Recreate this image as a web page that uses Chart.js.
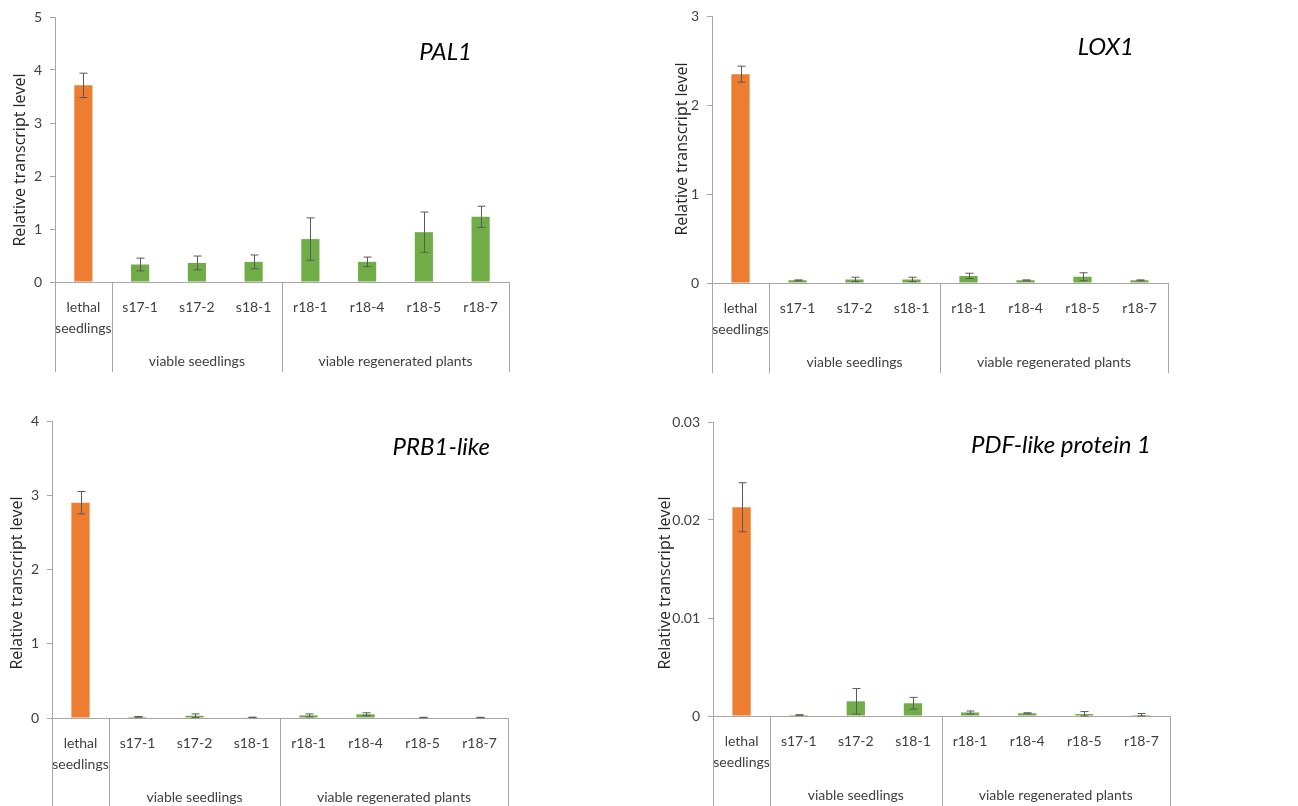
<!DOCTYPE html>
<html>
<head>
<meta charset="utf-8">
<script src="https://cdn.jsdelivr.net/npm/chart.js@4"></script>
<style>
  body { margin: 0; background: #fff; }
  .panel { position: absolute; }
</style>
</head>
<body>
<div class="panel" style="left:0;top:0"><canvas id="pal1" width="649" height="400"></canvas></div>
<div class="panel" style="left:650px;top:0"><canvas id="lox1" width="648" height="400"></canvas></div>
<div class="panel" style="left:0;top:400px"><canvas id="prb1" width="649" height="406"></canvas></div>
<div class="panel" style="left:650px;top:400px"><canvas id="pdf1" width="648" height="406"></canvas></div>
<script>
// categories on the x axis (shared by all four panels)
const sampleLabels = [["lethal", "seedlings"], "s17-1", "s17-2", "s18-1", "r18-1", "r18-4", "r18-5", "r18-7"];
const groupNames = ["", "viable seedlings", "viable regenerated plants"];
const groupSpans = [1, 3, 4];

// PAL1
const pal1Values = [3.71, 0.33, 0.36, 0.38, 0.81, 0.38, 0.94, 1.23];
const pal1Errors = [0.23, 0.12, 0.13, 0.13, 0.40, 0.09, 0.38, 0.20];
// LOX1
const lox1Values = [2.35, 0.03, 0.04, 0.04, 0.08, 0.03, 0.07, 0.03];
const lox1Errors = [0.09, 0.005, 0.025, 0.025, 0.03, 0.005, 0.045, 0.005];
// PRB1-like
const prb1Values = [2.90, 0.015, 0.03, 0.008, 0.035, 0.05, 0.006, 0.006];
const prb1Errors = [0.15, 0.005, 0.025, 0.003, 0.02, 0.02, 0.003, 0.003];
// PDF-like protein 1
const pdfValues = [0.0213, 0.0001, 0.0015, 0.0013, 0.00036, 0.00028, 0.0002, 0.0001];
const pdfErrors = [0.0025, 0.00003, 0.0013, 0.0006, 0.00015, 0.00005, 0.00025, 0.00015];

const ORANGE = "#ED7D31";
const GREEN = "#70AD47";
const AXIS_GRAY = "#a6a6a6";
const TEXT_GRAY = "#404040";
const FONT = "Lato, 'Open Sans', sans-serif";

// draws error bars, the grouped category frame below the axis, the y title and the gene name
const panelDecor = {
  id: "panelDecor",
  afterDatasetsDraw(chart, args, opts) {
    const { ctx, scales } = chart;
    const x = scales.x, y = scales.y;
    const values = chart.data.datasets[0].data;

    ctx.save();
    ctx.strokeStyle = "#595959";
    ctx.lineWidth = 1;
    values.forEach((v, i) => {
      const px = Math.round(x.getPixelForValue(i)) + 0.5;
      const top = y.getPixelForValue(v + opts.errors[i]);
      const bot = y.getPixelForValue(Math.max(v - opts.errors[i], 0));
      ctx.beginPath();
      ctx.moveTo(px, top); ctx.lineTo(px, bot);
      ctx.moveTo(px - 4, top); ctx.lineTo(px + 4, top);
      ctx.moveTo(px - 4, bot); ctx.lineTo(px + 4, bot);
      ctx.stroke();
    });
    ctx.restore();
  },
  afterDraw(chart, args, opts) {
    const { ctx, chartArea, scales } = chart;
    const x = scales.x;
    const half = (x.getPixelForValue(1) - x.getPixelForValue(0)) / 2;

    ctx.save();
    ctx.strokeStyle = AXIS_GRAY;
    ctx.lineWidth = 1;
    ctx.fillStyle = TEXT_GRAY;
    ctx.font = "14px " + FONT;
    ctx.textAlign = "center";
    ctx.textBaseline = "middle";
    let start = 0;
    const edges = [x.getPixelForValue(0) - half];
    groupSpans.forEach((span, g) => {
      const left = x.getPixelForValue(start) - half;
      const right = x.getPixelForValue(start + span - 1) + half;
      edges.push(right);
      if (groupNames[g]) ctx.fillText(groupNames[g], (left + right) / 2, chartArea.bottom + 79);
      start += span;
    });
    edges.forEach((ex) => {
      const px = Math.round(ex) + 0.5;
      ctx.beginPath();
      ctx.moveTo(px, chartArea.bottom);
      ctx.lineTo(px, chartArea.bottom + 90);
      ctx.stroke();
    });

    // y axis title
    ctx.save();
    ctx.translate(opts.titleX, opts.titleY);
    ctx.rotate(-Math.PI / 2);
    ctx.fillStyle = "#262626";
    ctx.font = "16px 'Open Sans', sans-serif";
    ctx.fillText("Relative transcript level", 0, 0);
    ctx.restore();

    // gene name, italic, top right inside the plot
    ctx.fillStyle = "#000";
    ctx.font = "italic 24px " + FONT;
    ctx.textAlign = "right";
    ctx.fillText(opts.gene, chartArea.right - opts.geneRight, chartArea.top + opts.geneTop);
    ctx.restore();
  }
};

function makePanel(id, values, errors, yMax, yStep, box) {
  const ctx = document.getElementById(id).getContext("2d");
  return new Chart(ctx, {
    type: "bar",
    data: {
      labels: sampleLabels,
      datasets: [{
        data: values,
        backgroundColor: values.map((v, i) => (i === 0 ? ORANGE : GREEN)),
        barPercentage: 0.32,
        categoryPercentage: 1.0,
      }],
    },
    options: {
      responsive: false,
      animation: false,
      devicePixelRatio: 1,
      layout: { padding: { left: 0, right: box.right, top: box.top, bottom: 0 } },
      plugins: {
        legend: { display: false },
        tooltip: { enabled: false },
        panelDecor: {
          errors: errors, gene: box.gene, geneRight: box.geneRight, geneTop: box.geneTop,
          titleX: box.titleX, titleY: box.titleY,
        },
      },
      scales: {
        x: {
          grid: { display: false },
          border: { color: AXIS_GRAY },
          ticks: {
            autoSkip: false,
            maxRotation: 0,
            padding: 7,
            color: TEXT_GRAY,
            font: { family: FONT, size: 14, lineHeight: 1.5 },
          },
          afterFit: (scale) => { scale.height = box.xHeight; },
        },
        y: {
          min: 0,
          max: yMax,
          ticks: {
            stepSize: yStep,
            padding: 8,
            color: TEXT_GRAY,
            font: { family: FONT, size: 14 },
          },
          grid: { drawOnChartArea: false, tickLength: 5, color: AXIS_GRAY },
          border: { color: AXIS_GRAY },
          afterFit: (scale) => { scale.width = box.yWidth; },
        },
      },
    },
    plugins: [panelDecor],
  });
}

document.addEventListener("DOMContentLoaded", () => {
  makePanel("pal1", pal1Values, pal1Errors, 5, 1,
    { right: 140, top: 17, xHeight: 118, yWidth: 55, titleX: 20, titleY: 160, gene: "PAL1", geneRight: 37, geneTop: 35 });
  makePanel("lox1", lox1Values, lox1Errors, 3, 1,
    { right: 130, top: 16, xHeight: 117, yWidth: 62, titleX: 32, titleY: 149, gene: "LOX1", geneRight: 34, geneTop: 31 });
  makePanel("prb1", prb1Values, prb1Errors, 4, 1,
    { right: 141, top: 21, xHeight: 88, yWidth: 52, titleX: 17, titleY: 183, gene: "PRB1-like", geneRight: 18, geneTop: 26 });
  makePanel("pdf1", pdfValues, pdfErrors, 0.03, 0.01,
    { right: 128, top: 22, xHeight: 90, yWidth: 63, titleX: 15, titleY: 183, gene: "PDF-like protein 1", geneRight: 19, geneTop: 23 });
});
</script>
</body>
</html>
